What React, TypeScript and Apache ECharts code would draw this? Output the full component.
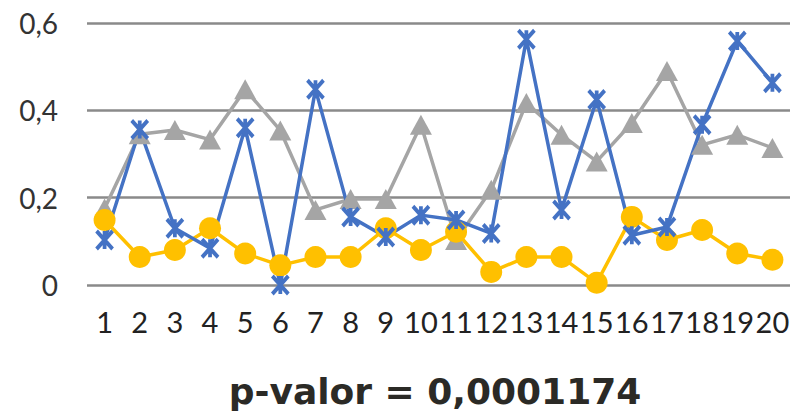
import React, { useEffect, useRef } from "react";
import * as echarts from "echarts";

const categories = ["1","2","3","4","5","6","7","8","9","10","11","12","13","14","15","16","17","18","19","20"];
const graySeries = [0.175,0.345,0.355,0.333,0.448,0.354,0.172,0.197,0.197,0.367,0.103,0.218,0.417,0.344,0.283,0.371,0.49,0.321,0.344,0.314];
const yellowSeries = [0.149,0.064,0.08,0.13,0.072,0.045,0.064,0.064,0.13,0.08,0.122,0.03,0.064,0.064,0.005,0.156,0.103,0.126,0.072,0.058];
const blueSeries = [0.103,0.356,0.13,0.084,0.36,0,0.448,0.156,0.11,0.16,0.149,0.118,0.563,0.172,0.425,0.114,0.133,0.367,0.559,0.463];
const yTicks = { min: 0, max: 0.6, interval: 0.2 };
const titleText = "p-valor = 0,0001174";

const starPath = "path://M0,0L10,10M10,0L0,10M5,0L5,10";

export default function App() {
  const ref = useRef<HTMLDivElement>(null);
  useEffect(() => {
    if (!ref.current) return;
    const chart = echarts.init(ref.current, undefined, { renderer: "svg" });
    chart.setOption({
      animation: false,
      backgroundColor: "#ffffff",
      title: {
        text: titleText,
        left: 430,
        top: 368,
        textAlign: "center",
        textStyle: {
          fontFamily: "DejaVu Sans",
          fontWeight: "bold",
          fontSize: 36,
          color: "#2b2a26",
        },
      },
      grid: { left: 87, right: 4, top: 23, bottom: 131 },
      xAxis: {
        type: "category",
        data: categories,
        boundaryGap: true,
        axisLine: { show: false },
        axisTick: { show: false },
        axisLabel: {
          interval: 0,
          margin: 22,
          fontFamily: "Lato",
          fontSize: 29,
          color: "#222222",
        },
      },
      yAxis: {
        type: "value",
        min: yTicks.min,
        max: yTicks.max,
        interval: yTicks.interval,
        axisLine: { show: false },
        axisTick: { show: false },
        splitLine: { lineStyle: { color: "#8a8a8a", width: 2.5 } },
        axisLabel: {
          margin: 29,
          fontFamily: "Lato",
          fontSize: 28,
          color: "#333333",
          formatter: (v: number) => (v === 0 ? "0" : v.toFixed(1).replace(".", ",")),
        },
      },
      series: [
        {
          type: "line",
          data: graySeries,
          symbol: "triangle",
          symbolSize: [22, 20],
          lineStyle: { color: "#a5a5a5", width: 3.5 },
          itemStyle: { color: "#a5a5a5" },
        },
        {
          type: "line",
          data: yellowSeries,
          symbol: "circle",
          symbolSize: 22,
          lineStyle: { color: "#ffc000", width: 3.5 },
          itemStyle: { color: "#ffc000", borderWidth: 0 },
        },
        {
          type: "line",
          data: blueSeries,
          symbol: starPath,
          symbolSize: [16, 18],
          lineStyle: { color: "#4472c4", width: 3.5 },
          itemStyle: { color: "none", borderColor: "#4472c4", borderWidth: 4 },
        },
      ],
    });
    return () => chart.dispose();
  }, []);
  return (
    <div
      ref={ref}
      style={{ position: "fixed", left: 0, top: 0, width: 794, height: 416 }}
    />
  );
}
